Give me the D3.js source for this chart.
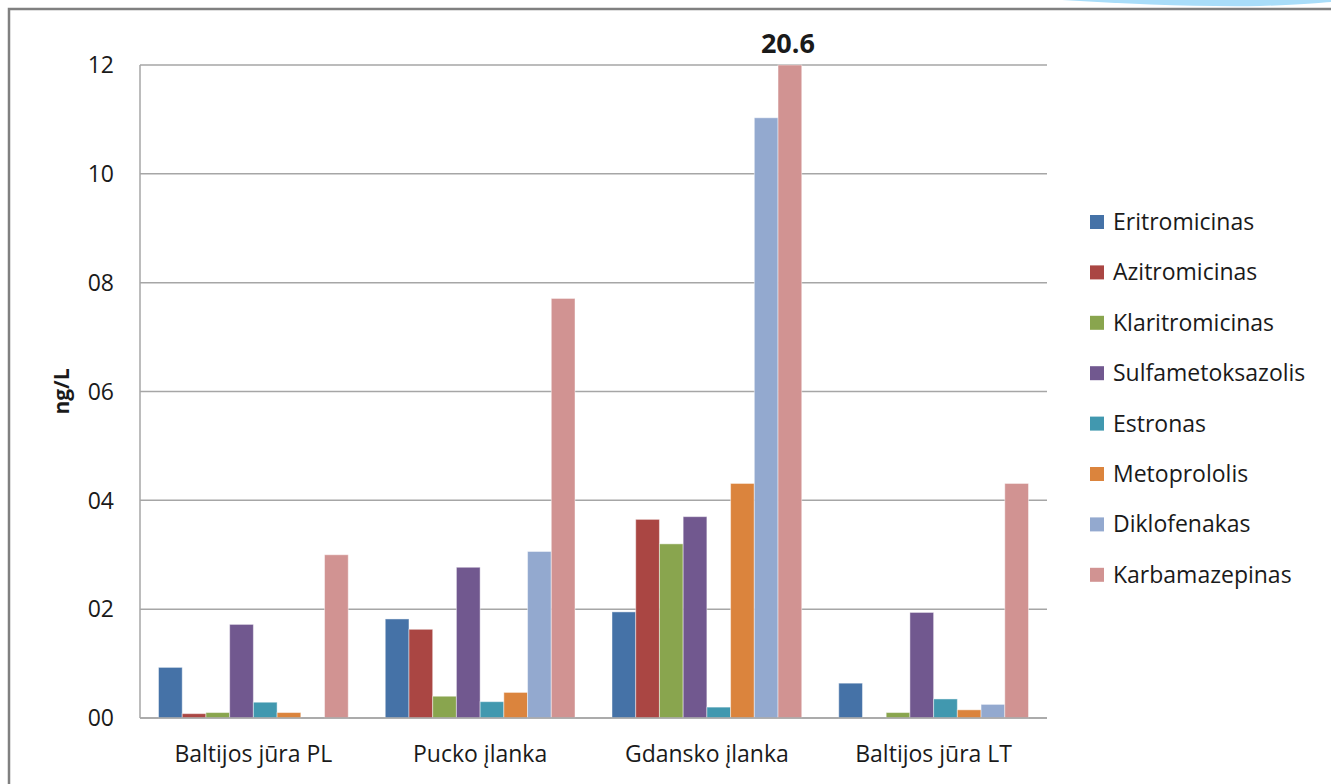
<!DOCTYPE html>
<html>
<head>
<meta charset="utf-8">
<script src="https://cdn.jsdelivr.net/npm/d3@7"></script>
<style>
  body { margin: 0; background: #fff; }
  svg text { font-family: "Open Sans", Lato, sans-serif; fill: #1a1a1a; }
</style>
</head>
<body>
<div id="chart"></div>
<script>
(function() {
  const width = 1331, height = 784;

  // data
  const sites = ["Baltijos jūra PL", "Pucko įlanka", "Gdansko įlanka", "Baltijos jūra LT"];
  const compounds = ["Eritromicinas", "Azitromicinas", "Klaritromicinas", "Sulfametoksazolis",
                     "Estronas", "Metoprololis", "Diklofenakas", "Karbamazepinas"];
  const colors = ["#4572A7", "#AA4643", "#89A54E", "#71588F", "#4198AF", "#DB843D", "#93A9CF", "#D19392"];
  // one array per site, in compound order (ng/L)
  const balticPL = [0.93, 0.08, 0.10, 1.72, 0.29, 0.10, 0, 3.00];
  const puck     = [1.82, 1.63, 0.40, 2.77, 0.30, 0.47, 3.06, 7.71];
  const gdansk   = [1.95, 3.65, 3.20, 3.70, 0.20, 4.31, 11.03, 20.6];
  const balticLT = [0.64, 0, 0.10, 1.94, 0.35, 0.15, 0.25, 4.31];
  const siteValues = [balticPL, puck, gdansk, balticLT];
  const yTicks = [0, 2, 4, 6, 8, 10, 12];
  const yTickLabels = ["00", "02", "04", "06", "08", "10", "12"];
  const yMax = 12;

  const margin = { top: 65, left: 140, right: 284, bottom: 66 };

  const svg = d3.select("#chart").append("svg")
    .attr("width", width)
    .attr("height", height);

  // frame of the slide chart + the blue swoosh in the corner
  svg.append("path")
    .attr("d", "M1062,0 C1130,4 1200,7 1260,6 C1295,5 1320,3 1331,2 L1331,0 Z")
    .attr("fill", "#a9ddf9");
  svg.append("path")
    .attr("d", `M9,${height} L9,9 L${width},9`)
    .attr("fill", "none")
    .attr("stroke", "#808080")
    .attr("stroke-width", 2.5);

  const x0 = d3.scaleBand()
    .domain(sites)
    .range([margin.left, width - margin.right])
    .paddingInner(0)
    .paddingOuter(0);

  const x1 = d3.scaleBand()
    .domain(compounds)
    .range([0, x0.bandwidth()])
    .paddingInner(0)
    .paddingOuter(0.78);

  const y = d3.scaleLinear()
    .domain([0, yMax])
    .range([height - margin.bottom, margin.top]);

  const plotRight = x0.range()[1];

  // gridlines
  svg.append("g")
    .selectAll("line")
    .data(yTicks)
    .join("line")
    .attr("x1", margin.left)
    .attr("x2", plotRight)
    .attr("y1", d => y(d))
    .attr("y2", d => y(d))
    .attr("stroke", "#a6a6a6")
    .attr("stroke-width", 1.5);

  // y axis line
  svg.append("line")
    .attr("x1", margin.left).attr("x2", margin.left)
    .attr("y1", y(yMax)).attr("y2", y(0))
    .attr("stroke", "#a6a6a6")
    .attr("stroke-width", 1.5);

  // y tick labels
  svg.append("g")
    .selectAll("text")
    .data(yTicks)
    .join("text")
    .attr("x", margin.left - 26)
    .attr("y", d => y(d))
    .attr("dy", "0.36em")
    .attr("text-anchor", "end")
    .style("font-size", "23px")
    .text((d, i) => yTickLabels[i]);

  // y axis title
  svg.append("text")
    .attr("transform", `translate(69,${(y(0) + y(yMax)) / 2}) rotate(-90)`)
    .attr("text-anchor", "middle")
    .style("font-size", "21px")
    .style("font-weight", "bold")
    .text("ng/L");

  // bars
  const groups = svg.append("g")
    .selectAll("g")
    .data(sites)
    .join("g")
    .attr("transform", d => `translate(${x0(d)},0)`);

  groups.selectAll("rect")
    .data((site, si) => compounds.map((c, ci) => ({ site, compound: c, value: siteValues[si][ci], color: colors[ci] })))
    .join("rect")
    .attr("x", d => x1(d.compound))
    .attr("width", x1.bandwidth())
    .attr("y", d => y(Math.min(d.value, yMax)))
    .attr("height", d => y(0) - y(Math.min(d.value, yMax)))
    .attr("fill", d => d.color)
    .attr("stroke", "rgba(255,255,255,0.45)")
    .attr("stroke-width", 1);

  // label for the off-scale bar
  groups.selectAll("text.over")
    .data((site, si) => compounds.map((c, ci) => ({ compound: c, value: siteValues[si][ci] }))
      .filter(d => d.value > yMax))
    .join("text")
    .attr("class", "over")
    .attr("x", d => x1(d.compound) + x1.bandwidth() / 2 - 2)
    .attr("y", y(yMax) - 12)
    .attr("text-anchor", "middle")
    .style("font-size", "27px")
    .style("font-weight", "bold")
    .text(d => d3.format(".1f")(d.value));

  // x axis line + category labels
  svg.append("line")
    .attr("x1", margin.left).attr("x2", plotRight)
    .attr("y1", y(0)).attr("y2", y(0))
    .attr("stroke", "#a6a6a6")
    .attr("stroke-width", 1.5);

  svg.append("g")
    .selectAll("text")
    .data(sites)
    .join("text")
    .attr("x", d => x0(d) + x0.bandwidth() / 2)
    .attr("y", y(0) + 44)
    .attr("text-anchor", "middle")
    .style("font-size", "23px")
    .text(d => d);

  // legend
  const legend = svg.append("g")
    .selectAll("g")
    .data(compounds)
    .join("g")
    .attr("transform", (d, i) => `translate(1090,${222 + i * 50.4})`);

  legend.append("rect")
    .attr("x", 0)
    .attr("y", -7)
    .attr("width", 14)
    .attr("height", 14)
    .attr("fill", (d, i) => colors[i]);

  legend.append("text")
    .attr("x", 23)
    .attr("dy", "0.35em")
    .style("font-size", "23px")
    .text(d => d);
})();
</script>
</body>
</html>
